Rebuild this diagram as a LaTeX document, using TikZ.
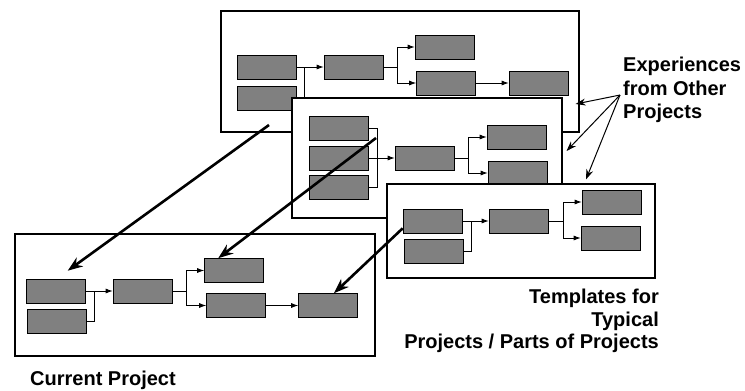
\documentclass[tikz,border=0pt]{standalone}
\usepackage{fontspec}
\setmainfont{Liberation Sans}
\usepackage{xcolor}
\usepackage{tikz}
\usetikzlibrary{arrows.meta, positioning, calc}

\begin{document}
\begin{tikzpicture}[
  x=1pt, y=-1pt,
  blk/.style={
    rectangle, draw=black, fill=black!50,
    minimum width=59pt, minimum height=24pt,
    inner sep=0pt, line width=0.6pt
  },
  frame/.style={
    rectangle, draw=black, fill=white,
    inner sep=0pt, line width=1.1pt
  },
  lbl/.style={
    font=\fontsize{20}{23.5}\selectfont\bfseries, inner sep=0pt
  },
  ln/.style={draw=black, line width=0.8pt},
  arr/.style={-{Latex[length=7pt,width=5pt]}, draw=black, line width=0.8pt},
  big/.style={-{Stealth[length=15pt,width=11pt]}, draw=black, line width=2.6pt},
  ptr/.style={-{Stealth[length=10pt,width=7pt]}, draw=black, line width=1pt}
]
\useasboundingbox (0,0) rectangle (745,391);

% ── Proyecto anterior (arriba) ───────────────────────────────
\node[frame, minimum width=358pt, minimum height=121pt] (F1) at (400,71.5) {};
\node[blk] (a1) at (266.5,67) {};
\node[blk] (a2) at (267,98)   {};
\node[blk] (a3) at (353.5,67) {};
\node[blk] (a4) at (444.5,47) {};
\node[blk] (a5) at (446,83)   {};
\node[blk] (a6) at (538.5,83) {};

\draw[arr] (a1.east) -- (a3.west);
\draw[ln] (a2.east) -| ($(a1.east)+(8,0)$);
\draw[ln] (a3.east) -- ++(14,0) coordinate (fa);
\draw[arr] (fa) |- (a4.west);
\draw[arr] (fa) |- (a5.west);
\draw[arr] (a5.east) -- (a6.west);

% ── Proyecto anterior (medio) ────────────────────────────────
\node[frame, minimum width=270pt, minimum height=120pt] (F2) at (427,158) {};
\node[blk] (b1) at (339,128.5)   {};
\node[blk] (b2) at (338.5,158)   {};
\node[blk] (b3) at (338.5,187.5) {};
\node[blk] (b4) at (424.5,158)   {};
\node[blk] (b5) at (516.5,137)   {};
\node[blk] (b6) at (517.5,173)   {};

\draw[ln] (b1.east) -- ++(9,0) |- (b3.east);
\draw[arr] (b2.east) -- (b4.west);
\draw[ln] (b4.east) -- ++(14,0) coordinate (fb);
\draw[arr] (fb) |- (b5.west);
\draw[arr] (fb) |- (b6.west);

% ── Plantilla (derecha) ──────────────────────────────────────
\node[frame, minimum width=268pt, minimum height=94pt] (F3) at (521,231) {};
\node[blk] (c1) at (432.5,221) {};
\node[blk] (c2) at (434,251.5) {};
\node[blk] (c3) at (518.5,221) {};
\node[blk] (c4) at (611.5,202) {};
\node[blk] (c5) at (610.5,238) {};

\draw[arr] (c1.east) -- (c3.west);
\draw[ln] (c2.east) -| ($(c1.east)+(9,0)$);
\draw[ln] (c3.east) -- ++(15,0) coordinate (fc);
\draw[arr] (fc) |- (c4.west);
\draw[arr] (fc) |- (c5.west);

% ── Proyecto actual (abajo) ──────────────────────────────────
\node[frame, minimum width=360pt, minimum height=122pt] (F4) at (195,295) {};
\node[blk] (d1) at (55.5,291)   {};
\node[blk] (d2) at (56.5,321.5) {};
\node[blk] (d3) at (142.5,291)  {};
\node[blk] (d4) at (234,270.5)  {};
\node[blk] (d5) at (236,305.5)  {};
\node[blk] (d6) at (328,305.5)  {};

\draw[arr] (d1.east) -- (d3.west);
\draw[ln] (d2.east) -| ($(d1.east)+(9,0)$);
\draw[ln] (d3.east) -- ++(14,0) coordinate (fd);
\draw[arr] (fd) |- (d4.west);
\draw[arr] (fd) |- (d5.west);
\draw[arr] (d5.east) -- (d6.west);

% ── Flechas gruesas (reutilización) ──────────────────────────
\coordinate (s1) at (269,125);
\coordinate (s2) at (376,138);
\draw[big] (s1) -- ($(d1.north west)+(42,-8)$);
\draw[big] (s2) -- ($(d4.north west)+(14,0)$);
\draw[big] ($(c1.south west)+(0,-5)$) -- ($(d6.north)+(6,0)$);

% ── Textos ───────────────────────────────────────────────────
\node[lbl, align=left, anchor=north west] (exp) at (623,57)
  {Experiences\\from Other\\Projects};
\node[lbl, align=right, anchor=north east,
  font=\fontsize{20}{22.5}\selectfont\bfseries] (tpl) at (659,289)
  {Templates for\\Typical\\Projects / Parts of Projects};
\node[lbl, anchor=base west] (cur) at (30,385) {Current Project};

% ── Flechas desde el texto ───────────────────────────────────
\coordinate (src) at ($(exp.west)+(-3,5)$);
\draw[ptr] (src) -- ($(F1.east)+(-4,32.5)$);
\draw[ptr] (src) -- ($(F2.east)+(4,-7)$);
\draw[ptr] (src) -- ($(F3.north)+(65,-4)$);

\end{tikzpicture}
\end{document}
